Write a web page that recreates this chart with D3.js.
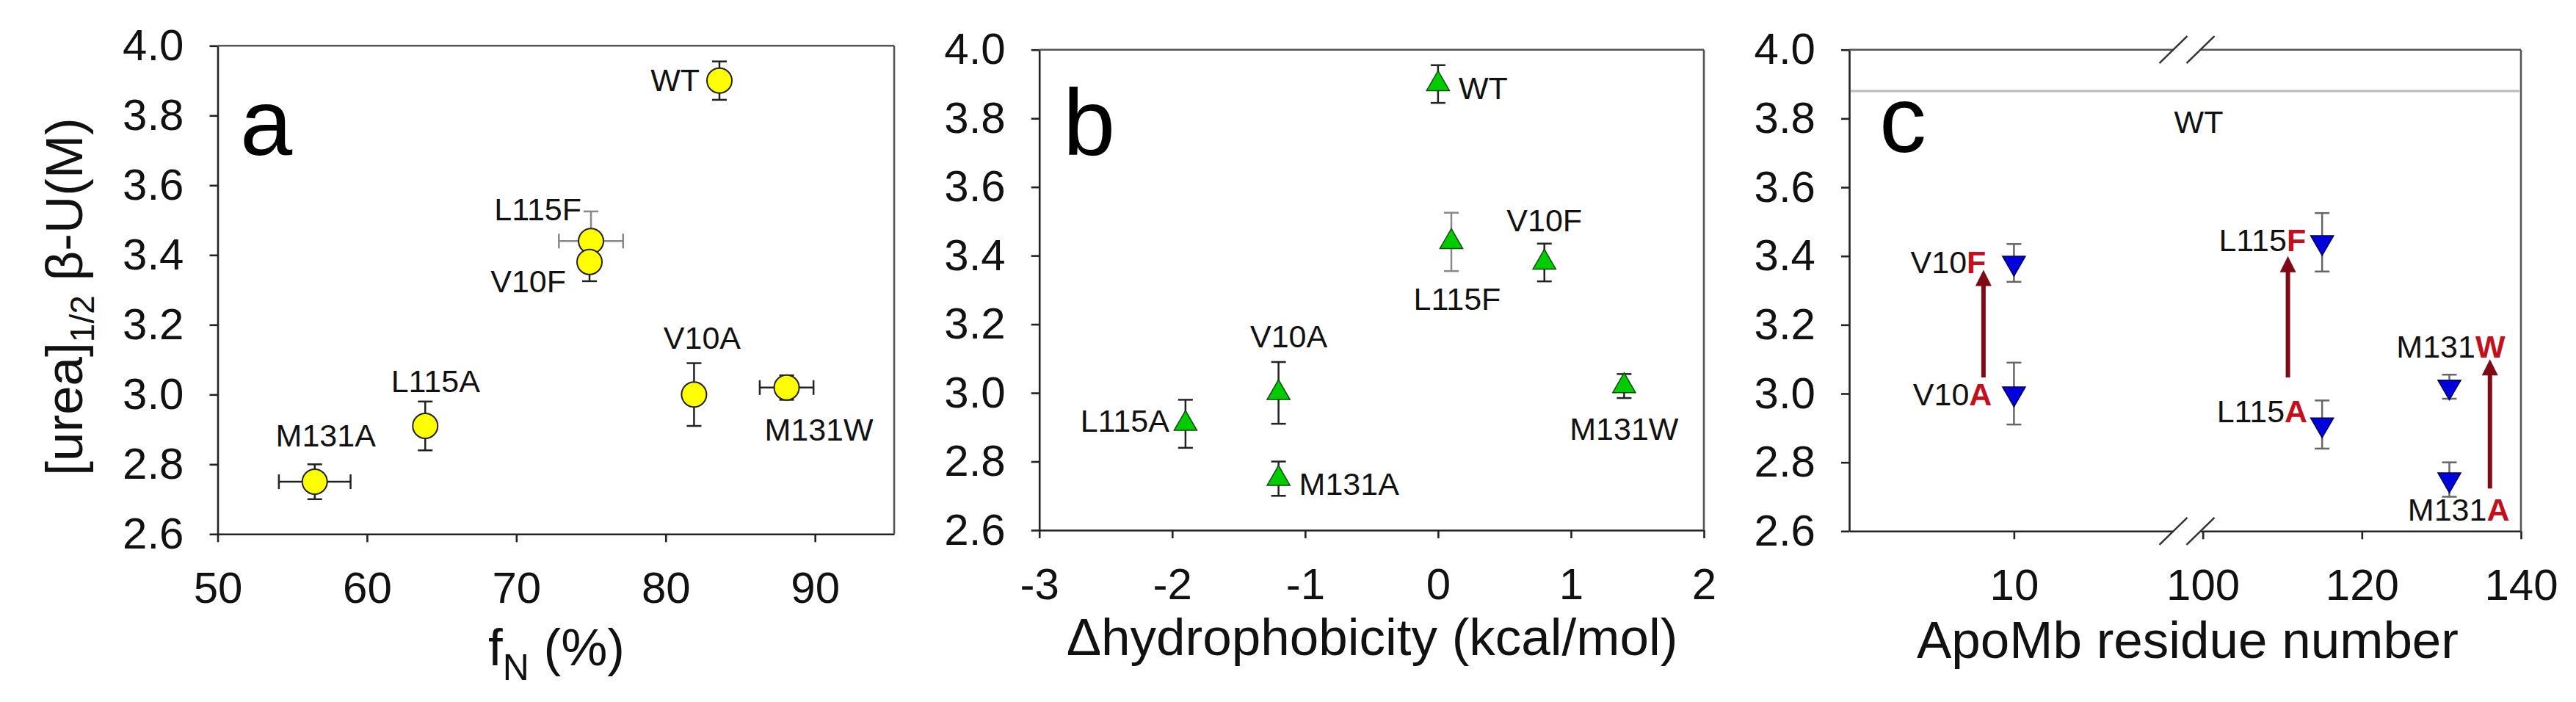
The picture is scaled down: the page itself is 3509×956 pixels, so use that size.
<!DOCTYPE html>
<html>
<head>
<meta charset="utf-8">
<script src="https://cdn.jsdelivr.net/npm/d3@7"></script>
<style>
  body { margin: 0; background: #fff; }
  text { font-family: "Liberation Sans", Arial, sans-serif; }
</style>
</head>
<body>
<div id="chart"></div>
<script>
// mutants, same order in every panel
const names = ["WT", "L115F", "V10F", "V10A", "M131W", "L115A", "M131A"];
const fN = [83.6, 75.0, 74.9, 81.9, 88.1, 63.9, 56.5];
const fNErr = [0, 2.15, 0, 0, 1.8, 0, 2.4];
const urea = [3.90, 3.44, 3.38, 3.00, 3.02, 2.91, 2.75];
const ureaErr = [0.055, 0.085, 0.055, 0.09, 0.035, 0.07, 0.05];
const dHydro = [0, 0.1, 0.8, -1.2, 1.4, -1.9, -1.2];
const residue = [null, 115, 10, 10, 131, 115, 131];
const wtUrea = 3.88;

// arrows in panel c (A -> F/W)
const arrowRes = [8.15, 110.7, 136.1];
const arrowFrom = [3.047, 3.047, 2.724];
const arrowTo = [3.36, 3.40, 3.10];

const yTicks = [2.6, 2.8, 3.0, 3.2, 3.4, 3.6, 3.8, 4.0];
const xTicksA = [50, 60, 70, 80, 90];
const xTicksB = [-3, -2, -1, 0, 1, 2];
const xTicksC = [10, 100, 120, 140];

const W = 3509, H = 956;
const svg = d3.select("#chart").append("svg")
  .attr("width", W).attr("height", H)
  .style("background", "#fff");

const boxA = {l: 296.5, r: 1218, t: 62.3, b: 727.3};
const boxB = {l: 1415.7, r: 2321, t: 67.7, b: 722};
const boxC = {l: 2519, r: 3434, t: 67.7, b: 723.3};

const xA = d3.scaleLinear().domain([50, 95.3]).range([boxA.l, boxA.r]);
const yA = d3.scaleLinear().domain([2.6, 4.0]).range([boxA.b, boxA.t]);
const xB = d3.scaleLinear().domain([-3, 2]).range([boxB.l, boxB.r]);
const yB = d3.scaleLinear().domain([2.6, 4.0]).range([boxB.b, boxB.t]);
// broken axis: 0..20.5 | 98..140
const brk = 2979;
const xC = d3.scaleLinear().domain([0, 20.5, 98, 140]).range([boxC.l, brk, brk, boxC.r]);
const yC = d3.scaleLinear().domain([2.6, 4.0]).range([boxC.b, boxC.t]);

function frame(x, y, box, xTicks) {
  const g = svg.append("g");
  const ax = g.append("g").attr("transform", `translate(0,${box.b})`)
    .call(d3.axisBottom(x).tickValues(xTicks).tickFormat(d => String(d))
      .tickSize(11).tickSizeOuter(0).tickPadding(40));
  const ay = g.append("g").attr("transform", `translate(${box.l},0)`)
    .call(d3.axisLeft(y).tickValues(yTicks).tickFormat(d3.format(".1f"))
      .tickSize(11).tickSizeOuter(0).tickPadding(35));
  [ax, ay].forEach(a => {
    a.attr("font-size", 60).attr("font-family", "Liberation Sans, Arial, sans-serif");
    a.selectAll("path, line").attr("stroke", "#222").attr("stroke-width", 2.6);
    a.selectAll("text").attr("fill", "#111");
  });
  g.append("line").attr("x1", box.l).attr("x2", box.r).attr("y1", box.t).attr("y2", box.t)
    .attr("stroke", "#555").attr("stroke-width", 2.6);
  g.append("line").attr("x1", box.r).attr("x2", box.r).attr("y1", box.t).attr("y2", box.b)
    .attr("stroke", "#555").attr("stroke-width", 2.6);
  return g;
}

function yErrBar(g, cx, y, v, e, color) {
  const y1 = y(v - e), y2 = y(v + e);
  g.append("line").attr("x1", cx).attr("x2", cx).attr("y1", y1).attr("y2", y2)
    .attr("stroke", color).attr("stroke-width", 2.5);
  [y1, y2].forEach(yy => g.append("line").attr("x1", cx - 10).attr("x2", cx + 10)
    .attr("y1", yy).attr("y2", yy).attr("stroke", color).attr("stroke-width", 2.5));
}
function xErrBar(g, cy, x, v, e, color) {
  const x1 = x(v - e), x2 = x(v + e);
  g.append("line").attr("x1", x1).attr("x2", x2).attr("y1", cy).attr("y2", cy)
    .attr("stroke", color).attr("stroke-width", 2.5);
  [x1, x2].forEach(xx => g.append("line").attr("x1", xx).attr("x2", xx)
    .attr("y1", cy - 10).attr("y2", cy + 10).attr("stroke", color).attr("stroke-width", 2.5));
}
const barColor = n => n === "L115F" ? "#888" : "#222";

function panelLetter(txt, x, y) {
  svg.append("text").attr("x", x).attr("y", y).attr("font-size", 128)
    .attr("fill", "#000").text(txt);
}

// ---------- panel a ----------
const gA = frame(xA, yA, boxA, xTicksA);
names.forEach((n, i) => {
  if (fNErr[i] > 0) xErrBar(gA, yA(urea[i]), xA, fN[i], fNErr[i], barColor(n));
  yErrBar(gA, xA(fN[i]), yA, urea[i], ureaErr[i], barColor(n));
});
gA.selectAll("circle.pt").data(names).enter().append("circle")
  .attr("class", "pt")
  .attr("cx", (d, i) => xA(fN[i]))
  .attr("cy", (d, i) => yA(urea[i]))
  .attr("r", 17)
  .attr("fill", "#ffff00").attr("stroke", "#222").attr("stroke-width", 2);
const offA = {
  WT: ["end", -27, 14], L115F: ["end", -13, -28], V10F: ["end", -32, 41],
  V10A: ["middle", 11, -62], M131W: ["middle", 44, 72], L115A: ["middle", 14, -46],
  M131A: ["middle", 15, -48]
};
names.forEach((n, i) => {
  const o = offA[n];
  gA.append("text").attr("x", xA(fN[i]) + o[1]).attr("y", yA(urea[i]) + o[2])
    .attr("text-anchor", o[0]).attr("font-size", 43).attr("fill", "#111").text(n);
});
panelLetter("a", 327, 211);
const tA = svg.append("text").attr("transform", "translate(112,404) rotate(-90)")
  .attr("text-anchor", "middle").attr("font-size", 71).attr("fill", "#111");
tA.append("tspan").text("[urea]");
tA.append("tspan").attr("font-size", 46).attr("dy", 16).text("1/2");
tA.append("tspan").attr("dy", -16).text(" \u03b2-U(M)");
const xtA = svg.append("text").attr("x", 758).attr("y", 906)
  .attr("text-anchor", "middle").attr("font-size", 71).attr("fill", "#111");
xtA.append("tspan").text("f");
xtA.append("tspan").attr("font-size", 50).attr("dy", 20).text("N");
xtA.append("tspan").attr("dy", -20).text(" (%)");

// ---------- panel b ----------
const gB = frame(xB, yB, boxB, xTicksB);
names.forEach((n, i) => yErrBar(gB, xB(dHydro[i]), yB, urea[i], ureaErr[i], barColor(n)));
const tri = d3.symbol(d3.symbolTriangle, 420);
gB.selectAll("path.pt").data(names).enter().append("path")
  .attr("class", "pt")
  .attr("d", tri)
  .attr("transform", (d, i) => `translate(${xB(dHydro[i])},${yB(urea[i])})`)
  .attr("fill", "#00cc00").attr("stroke", "#0a4a0a").attr("stroke-width", 1.5);
const offB = {
  WT: ["start", 28, 21], L115F: ["middle", 8, 93], V10F: ["middle", 0, -42],
  V10A: ["middle", 14, -62], L115A: ["end", -22, 11], M131A: ["start", 28, 22],
  M131W: ["middle", 0, 73]
};
names.forEach((n, i) => {
  const o = offB[n];
  gB.append("text").attr("x", xB(dHydro[i]) + o[1]).attr("y", yB(urea[i]) + o[2])
    .attr("text-anchor", o[0]).attr("font-size", 43).attr("fill", "#111").text(n);
});
panelLetter("b", 1448, 211);
svg.append("text").attr("x", 1869).attr("y", 892).attr("text-anchor", "middle")
  .attr("font-size", 71).attr("fill", "#111").text("\u0394hydrophobicity (kcal/mol)");

// ---------- panel c ----------
const gC = frame(xC, yC, boxC, xTicksC);
// WT reference line
gC.append("line").attr("x1", boxC.l + 2).attr("x2", boxC.r - 2)
  .attr("y1", yC(wtUrea)).attr("y2", yC(wtUrea))
  .attr("stroke", "#bbb").attr("stroke-width", 3);
gC.append("text").attr("x", brk + 16).attr("y", yC(wtUrea) + 57)
  .attr("text-anchor", "middle").attr("font-size", 43).attr("fill", "#111").text("WT");
// axis breaks
[boxC.t, boxC.b].forEach(yy => {
  gC.append("rect").attr("x", brk - 18).attr("y", yy - 5).attr("width", 36).attr("height", 10)
    .attr("fill", "#fff");
  [brk - 18.5, brk + 18.5].forEach(cx => gC.append("line")
    .attr("x1", cx - 19).attr("y1", yy + 18.5).attr("x2", cx + 19).attr("y2", yy - 18.5)
    .attr("stroke", "#333").attr("stroke-width", 2.5));
});
const mutIdx = d3.range(names.length).filter(i => residue[i] != null);
mutIdx.forEach(i => yErrBar(gC, xC(residue[i]), yC, urea[i], ureaErr[i], "#666"));
gC.selectAll("path.pt").data(mutIdx).enter().append("path")
  .attr("class", "pt")
  .attr("d", tri)
  .attr("transform", i => `translate(${xC(residue[i])},${yC(urea[i])}) rotate(180)`)
  .attr("fill", "#0000dd").attr("stroke", "#000055").attr("stroke-width", 1.5);
// arrows
const arrowCol = "#7f0a16";
arrowRes.forEach((r, k) => {
  const x = xC(r), y0 = yC(arrowFrom[k]), y1 = yC(arrowTo[k]);
  gC.append("line").attr("x1", x).attr("x2", x).attr("y1", y0).attr("y2", y1 + 18)
    .attr("stroke", arrowCol).attr("stroke-width", 6);
  gC.append("path").attr("d", `M${x},${y1} L${x - 11},${y1 + 22} L${x + 11},${y1 + 22} Z`)
    .attr("fill", arrowCol);
});
const offC = {
  V10F: [-38, 14], V10A: [-30, 16], L115F: [-22, 12], L115A: [-20, -3],
  M131W: [76, -40], M131A: [82, 56]
};
mutIdx.forEach(i => {
  const n = names[i], o = offC[n];
  const t = gC.append("text").attr("x", xC(residue[i]) + o[0]).attr("y", yC(urea[i]) + o[1])
    .attr("text-anchor", "end").attr("font-size", 43).attr("fill", "#111");
  t.append("tspan").text(n.slice(0, -1));
  t.append("tspan").attr("font-weight", "bold").attr("fill", "#c2101c").text(n.slice(-1));
});
panelLetter("c", 2560, 207);
svg.append("text").attr("x", 2980).attr("y", 896).attr("text-anchor", "middle")
  .attr("font-size", 71).attr("fill", "#111").text("ApoMb residue number");
</script>
</body>
</html>
